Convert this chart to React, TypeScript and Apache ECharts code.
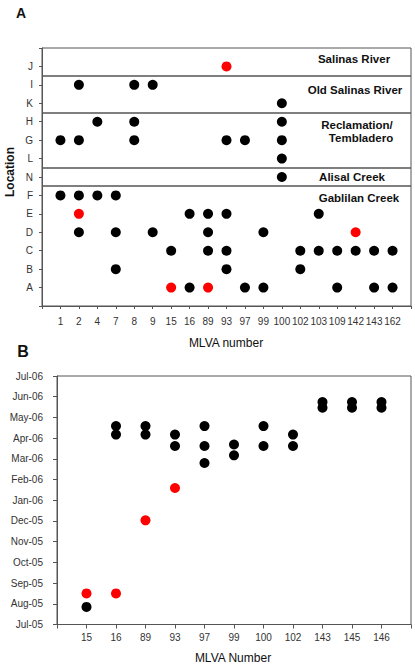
import React, { useEffect, useRef } from "react";
import * as echarts from "echarts";

// ---------- Panel A ----------
const mlvaA = ["1", "2", "4", "7", "8", "9", "15", "16", "89", "93", "97", "99", "100", "102", "103", "109", "142", "143", "162"];
// bottom-to-top order of locations on the y axis
const locations = ["A", "B", "C", "D", "E", "F", "N", "L", "G", "H", "K", "I", "J"];

// [MLVA number, location]
const blackA: [string, string][] = [
  ["2", "I"], ["8", "I"], ["9", "I"],
  ["100", "K"],
  ["4", "H"], ["8", "H"], ["100", "H"],
  ["1", "G"], ["2", "G"], ["8", "G"], ["93", "G"], ["97", "G"], ["100", "G"],
  ["100", "L"],
  ["100", "N"],
  ["1", "F"], ["2", "F"], ["4", "F"], ["7", "F"],
  ["16", "E"], ["89", "E"], ["93", "E"], ["103", "E"],
  ["2", "D"], ["7", "D"], ["9", "D"], ["89", "D"], ["99", "D"],
  ["15", "C"], ["89", "C"], ["93", "C"], ["102", "C"], ["103", "C"], ["109", "C"], ["142", "C"], ["143", "C"], ["162", "C"],
  ["7", "B"], ["93", "B"], ["102", "B"],
  ["16", "A"], ["97", "A"], ["99", "A"], ["109", "A"], ["143", "A"], ["162", "A"],
];
const redA: [string, string][] = [
  ["93", "J"],
  ["2", "E"],
  ["142", "D"],
  ["15", "A"], ["89", "A"],
];

// pairs of neighbouring locations separated by a region line
const regionBreaks: [string, string][] = [["I", "J"], ["K", "H"], ["L", "N"], ["N", "F"]];
const regionNames = ["Salinas River", "Old Salinas River", "Reclamation/", "Tembladero", "Alisal Creek", "Gablilan Creek"];

// ---------- Panel B ----------
const mlvaB = ["15", "16", "89", "93", "97", "99", "100", "102", "143", "145", "146"];
const monthLabels = ["Jul-05", "Aug-05", "Sep-05", "Oct-05", "Nov-05", "Dec-05", "Jan-06", "Feb-06", "Mar-06", "Apr-06", "May-06", "Jun-06", "Jul-06"];

// [MLVA number, months since Jul-05]
const blackB: [string, number][] = [
  ["15", 0.85],
  ["16", 9.58], ["16", 9.17],
  ["89", 9.58], ["89", 9.17],
  ["93", 9.17], ["93", 8.62],
  ["97", 9.58], ["97", 8.62], ["97", 7.8],
  ["99", 8.69], ["99", 8.17],
  ["100", 9.58], ["100", 8.62],
  ["102", 9.17], ["102", 8.62],
  ["143", 10.74], ["143", 10.47],
  ["145", 10.74], ["145", 10.47],
  ["146", 10.74], ["146", 10.47],
];
const redB: [string, number][] = [
  ["15", 1.5], ["16", 1.5], ["89", 5.03], ["93", 6.59],
];

const FONT = "'Liberation Sans', Arial, Helvetica, sans-serif";
const AXIS = "#555";
const LABEL = "#333";
const RED = "#ff0000";

export default function App() {
  const ref = useRef<HTMLDivElement>(null);

  useEffect(() => {
    if (!ref.current) return;
    const chart = echarts.init(ref.current, undefined, { renderer: "svg" });

    const axisCommon = {
      type: "value" as const,
      interval: 1,
      splitLine: { show: false },
      axisLine: { show: true, lineStyle: { color: AXIS, width: 1 } },
      axisTick: { show: true, lineStyle: { color: AXIS } },
    };

    const txt = (text: string, x: number, y: number, size: number, weight: string, extra: any = {}) => ({
      type: "text",
      x,
      y,
      silent: true,
      ...extra,
      style: {
        text,
        fill: "#111",
        fontSize: size,
        fontWeight: weight,
        fontFamily: FONT,
        align: "center",
        verticalAlign: "middle",
      },
    });

    const regionPos: [number, number][] = [
      [354, 59], [355, 90], [357, 125], [361, 138], [352, 177], [359, 198],
    ];

    const dot = (color: string) => ({ color, opacity: 1 });

    chart.setOption({
      animation: false,
      grid: [
        { left: 42, top: 48, right: 4, height: 258, show: true, borderColor: AXIS, borderWidth: 1 },
        { left: 57, top: 376, right: 4, height: 248.5, show: true, borderColor: AXIS, borderWidth: 1 },
      ],
      xAxis: [
        {
          ...axisCommon,
          gridIndex: 0,
          min: 0,
          max: 20,
          axisTick: { show: true, length: 3, lineStyle: { color: AXIS } },
          axisLabel: {
            margin: 10,
            fontSize: 10,
            color: LABEL,
            fontFamily: FONT,
            hideOverlap: false,
            formatter: (v: number) => mlvaA[Math.round(v) - 1] ?? "",
          },
        },
        {
          ...axisCommon,
          gridIndex: 1,
          min: 0,
          max: 12,
          axisTick: { show: true, length: 4, lineStyle: { color: AXIS } },
          axisLabel: {
            margin: 8,
            fontSize: 10,
            color: LABEL,
            fontFamily: FONT,
            formatter: (v: number) => mlvaB[Math.round(v) - 1] ?? "",
          },
        },
      ],
      yAxis: [
        {
          ...axisCommon,
          gridIndex: 0,
          min: 0,
          max: 14,
          axisTick: { show: true, length: 3, lineStyle: { color: AXIS } },
          axisLabel: {
            margin: 9,
            fontSize: 10,
            color: LABEL,
            fontFamily: FONT,
            formatter: (v: number) => locations[Math.round(v) - 1] ?? "",
          },
        },
        {
          ...axisCommon,
          gridIndex: 1,
          min: 0,
          max: 12,
          axisTick: { show: true, length: 4, lineStyle: { color: AXIS } },
          axisLabel: {
            margin: 14,
            fontSize: 10,
            color: LABEL,
            fontFamily: FONT,
            formatter: (v: number) => monthLabels[Math.round(v)] ?? "",
          },
        },
      ],
      series: [
        {
          type: "scatter",
          xAxisIndex: 0,
          yAxisIndex: 0,
          symbol: "circle",
          symbolSize: 10,
          itemStyle: dot("#000"),
          data: blackA.map(([m, l]) => [mlvaA.indexOf(m) + 1, locations.indexOf(l) + 1]),
          markLine: {
            silent: true,
            symbol: ["none", "none"],
            label: { show: false },
            lineStyle: { color: AXIS, width: 1.5, type: "solid", opacity: 1 },
            data: regionBreaks.map(([a, b]) => ({
              yAxis: (locations.indexOf(a) + locations.indexOf(b)) / 2 + 1,
            })),
          },
        },
        {
          type: "scatter",
          xAxisIndex: 0,
          yAxisIndex: 0,
          symbol: "circle",
          symbolSize: 10,
          itemStyle: dot(RED),
          data: redA.map(([m, l]) => [mlvaA.indexOf(m) + 1, locations.indexOf(l) + 1]),
        },
        {
          type: "scatter",
          xAxisIndex: 1,
          yAxisIndex: 1,
          symbol: "circle",
          symbolSize: 10,
          itemStyle: dot("#000"),
          data: blackB.map(([m, t]) => [mlvaB.indexOf(m) + 1, t]),
        },
        {
          type: "scatter",
          xAxisIndex: 1,
          yAxisIndex: 1,
          symbol: "circle",
          symbolSize: 10,
          itemStyle: dot(RED),
          data: redB.map(([m, t]) => [mlvaB.indexOf(m) + 1, t]),
        },
      ],
      graphic: [
        txt("A", 21, 13, 14, "bold"),
        txt("B", 23, 351, 16, "bold"),
        txt("Location", 10, 172, 12, "bold", { rotation: Math.PI / 2 }),
        txt("MLVA number", 226, 343, 12, "normal"),
        txt("MLVA Number", 233, 658, 12, "normal"),
        ...regionNames.map((n, i) => txt(n, regionPos[i][0], regionPos[i][1], 11.5, "bold")),
      ],
    });

    return () => chart.dispose();
  }, []);

  return (
    <div
      ref={ref}
      style={{ position: "fixed", left: 0, top: 0, width: 415, height: 667, background: "#fff" }}
    />
  );
}
